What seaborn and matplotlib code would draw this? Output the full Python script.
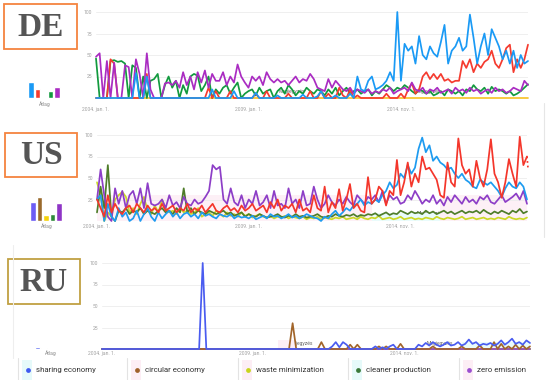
import numpy as np
import pandas as pd
import matplotlib
matplotlib.use("Agg")
import matplotlib.pyplot as plt
from matplotlib.patches import Rectangle
import seaborn as sns

# search terms (Google Trends, monthly interest 0-100, 2004 - 2018)
terms = ["sharing economy", "circular economy", "waste minimization",
         "cleaner production", "zero emission"]
date_ticks = [0, 42, 84]
date_labels = ["2004. jan. 1.", "2009. jan. 1.", "2014. nov. 1."]

# ---- DE ----
de_sharing = [0, 0, 0, 0, 0, 0, 0, 0, 0, 0, 0, 29, 0, 0, 25, 0, 0, 0, 0, 0,
              0, 0, 0, 0, 0, 0, 0, 0, 0, 0, 0, 0, 10, 0, 0, 0, 0, 0, 8, 0,
              0, 0, 0, 0, 6, 0, 0, 0, 0, 0, 3, 0, 0, 0, 0, 0, 0, 4, 0, 0,
              0, 2, 8, 0, 0, 0, 3, 0, 0, 0, 5, 0, 25, 10, 8, 20, 25, 10, 12, 15,
              20, 30, 20, 100, 20, 63, 55, 60, 40, 72, 50, 45, 60, 52, 48, 65, 85, 40, 55, 60,
              70, 55, 60, 97, 70, 40, 60, 75, 50, 80, 70, 60, 45, 55, 40, 55, 35, 50, 40, 43]
de_circular = [0, 0, 0, 0, 45, 40, 0, 0, 0, 0, 0, 0, 0, 0, 28, 0, 0, 0, 0, 0,
               0, 0, 0, 0, 0, 0, 0, 0, 0, 0, 0, 12, 0, 8, 0, 0, 0, 8, 0, 0,
               0, 0, 0, 0, 5, 0, 0, 8, 0, 0, 0, 0, 0, 5, 0, 0, 0, 0, 0, 8,
               0, 0, 8, 0, 5, 0, 0, 12, 3, 0, 10, 0, 3, 0, 0, 0, 0, 0, 0, 0,
               5, 0, 0, 0, 5, 0, 10, 17, 5, 10, 25, 30, 22, 28, 22, 28, 20, 22, 18, 20,
               20, 43, 35, 45, 30, 40, 35, 42, 45, 55, 40, 35, 45, 58, 62, 30, 45, 35, 45, 62]
de_waste = [0, 0, 0, 0, 0, 0, 0, 0, 0, 0, 0, 0, 0, 0, 0, 0, 0, 0, 0, 0,
            0, 0, 0, 0, 0, 0, 0, 0, 0, 0, 0, 0, 0, 0, 0, 0, 0, 0, 0, 0,
            0, 0, 0, 0, 0, 0, 0, 0, 0, 0, 0, 0, 0, 0, 0, 0, 0, 0, 0, 0,
            0, 0, 0, 0, 0, 0, 0, 0, 0, 0, 0, 0, 0, 0, 0, 0, 0, 0, 0, 0,
            0, 0, 0, 0, 0, 0, 0, 0, 0, 0, 0, 0, 0, 0, 0, 0, 0, 0, 0, 0,
            0, 0, 0, 0, 0, 0, 0, 0, 0, 0, 0, 0, 0, 0, 0, 0, 0, 0, 0, 0]
de_cleaner = [46, 0, 0, 0, 43, 44, 42, 43, 40, 0, 38, 35, 0, 25, 0, 20, 22, 28, 0, 15,
              25, 12, 20, 0, 15, 5, 25, 28, 26, 8, 15, 25, 0, 10, 5, 12, 15, 5, 12, 18,
              0, 5, 8, 10, 3, 12, 5, 8, 10, 0, 8, 12, 5, 15, 10, 3, 8, 5, 12, 8,
              5, 10, 8, 3, 10, 5, 12, 3, 8, 12, 5, 8, 10, 5, 8, 10, 3, 8, 5, 10,
              15, 12, 8, 12, 10, 15, 12, 8, 5, 10, 8, 5, 8, 3, 5, 8, 3, 10, 8, 5,
              8, 3, 10, 8, 15, 10, 8, 12, 5, 13, 8, 10, 8, 5, 8, 3, 5, 8, 12, 16]
de_zero = [48, 52, 0, 43, 0, 41, 0, 0, 38, 36, 0, 45, 28, 0, 52, 10, 0, 0, 0, 17,
           18, 15, 20, 12, 30, 15, 25, 10, 30, 18, 32, 12, 28, 20, 20, 30, 15, 25, 18, 39,
           25, 18, 12, 25, 20, 25, 15, 30, 22, 18, 22, 18, 20, 15, 20, 25, 18, 22, 20, 28,
           22, 12, 10, 8, 22, 12, 20, 15, 10, 8, 12, 5, 10, 8, 6, 10, 5, 8, 6, 10,
           8, 12, 5, 8, 10, 12, 8, 18, 10, 8, 12, 5, 10, 8, 12, 6, 8, 10, 5, 12,
           8, 10, 6, 12, 8, 10, 5, 8, 10, 6, 12, 8, 10, 6, 8, 12, 10, 8, 20, 15]
de_avg = [19, 10, 0, 8, 13]

# ---- US ----
us_sharing = [25, 30, 0, 20, 5, 0, 15, 5, 10, 0, 3, 12, 0, 8, 15, 5, 0, 10, 3, 8,
              12, 5, 10, 3, 8, 10, 5, 8, 3, 10, 6, 8, 5, 3, 8, 6, 5, 8, 3, 6,
              4, 5, 3, 6, 2, 4, 6, 3, 8, 5, 6, 3, 5, 8, 4, 6, 3, 5, 8, 6,
              4, 3, 0, 5, 3, 8, 12, 6, 10, 15, 12, 18, 20, 25, 18, 22, 20, 25, 22, 30,
              35, 45, 38, 42, 55, 50, 65, 55, 62, 84, 97, 80, 88, 70, 75, 68, 65, 60, 62, 55,
              50, 55, 48, 45, 40, 38, 48, 45, 42, 45, 40, 35, 28, 38, 45, 40, 38, 45, 40, 25]
us_circular = [25, 15, 5, 30, 10, 20, 12, 8, 15, 18, 10, 20, 15, 10, 18, 12, 15, 10, 20, 12,
               15, 18, 10, 15, 12, 20, 10, 15, 12, 18, 10, 15, 20, 12, 10, 15, 18, 12, 15, 10,
               18, 12, 15, 20, 12, 15, 18, 10, 22, 15, 25, 12, 18, 15, 20, 10, 25, 12, 15, 10,
               30, 15, 12, 40, 10, 22, 15, 37, 12, 25, 43, 15, 20, 12, 10, 51, 20, 25, 40, 35,
               18, 35, 30, 71, 30, 45, 68, 40, 55, 45, 75, 60, 62, 55, 48, 30, 27, 68, 45, 40,
               96, 65, 55, 60, 40, 70, 50, 40, 60, 95, 55, 45, 27, 45, 72, 55, 40, 98, 65, 75]
us_circular_partial = 60
us_waste = [45, 30, 0, 10, 5, 25, 30, 34, 28, 10, 15, 8, 20, 28, 12, 8, 18, 10, 25, 15,
            10, 12, 8, 15, 10, 12, 8, 10, 15, 5, 8, 10, 6, 12, 8, 5, 10, 6, 8, 5,
            10, 6, 8, 4, 6, 8, 5, 4, 6, 3, 5, 4, 6, 3, 5, 4, 3, 5, 2, 4,
            3, 5, 2, 4, 3, 2, 4, 3, 5, 2, 3, 4, 2, 5, 3, 2, 4, 3, 6, 2,
            3, 4, 2, 3, 5, 2, 3, 4, 2, 3, 2, 4, 3, 2, 5, 3, 2, 4, 3, 2,
            3, 5, 2, 3, 4, 2, 3, 4, 2, 3, 2, 4, 3, 2, 5, 3, 2, 3, 2, 4]
us_cleaner = [10, 40, 15, 65, 5, 0, 12, 10, 15, 8, 12, 10, 15, 8, 12, 10, 8, 12, 15, 10,
              12, 8, 15, 10, 38, 10, 15, 8, 12, 10, 8, 12, 10, 8, 10, 12, 8, 10, 6, 8,
              10, 5, 8, 6, 5, 8, 6, 4, 5, 6, 8, 5, 4, 6, 5, 8, 5, 6, 4, 5,
              6, 8, 5, 4, 6, 5, 8, 6, 5, 7, 6, 8, 5, 7, 6, 8, 7, 9, 6, 8,
              10, 7, 9, 8, 12, 10, 8, 11, 9, 10, 8, 12, 9, 11, 8, 10, 12, 9, 11, 8,
              10, 12, 9, 11, 10, 12, 9, 13, 10, 8, 11, 9, 12, 10, 8, 12, 10, 14, 9, 11]
us_zero = [25, 60, 30, 5, 0, 38, 20, 35, 15, 30, 35, 20, 38, 15, 44, 20, 18, 20, 25, 15,
           30, 18, 22, 15, 28, 20, 18, 25, 20, 22, 28, 35, 65, 60, 63, 25, 20, 38, 22, 18,
           30, 15, 25, 20, 35, 18, 22, 30, 15, 35, 18, 20, 15, 38, 20, 25, 15, 35, 18, 20,
           40, 25, 15, 20, 30, 22, 18, 25, 20, 28, 22, 18, 30, 25, 20, 28, 25, 30, 22, 35,
           20, 30, 25, 28, 20, 22, 30, 25, 35, 28, 20, 25, 22, 30, 20, 25, 18, 28, 22, 30,
           25, 20, 28, 22, 25, 20, 28, 25, 30, 22, 20, 25, 30, 22, 25, 28, 32, 25, 35, 20]
us_avg = [22, 28, 7, 8, 21]

# ---- RU ----
ru_sharing = [0, 0, 0, 0, 0, 0, 0, 0, 0, 0, 0, 0, 0, 0, 0, 0, 0, 0, 0, 0,
              0, 0, 0, 0, 0, 0, 0, 0, 100, 0, 0, 0, 0, 0, 0, 0, 0, 0, 0, 0,
              0, 0, 0, 0, 0, 0, 0, 0, 0, 0, 0, 0, 0, 0, 0, 0, 0, 0, 0, 0,
              0, 0, 0, 0, 3, 8, 2, 8, 5, 0, 0, 0, 0, 0, 0, 0, 3, 0, 2, 0,
              3, 5, 0, 0, 0, 0, 0, 0, 5, 3, 7, 4, 8, 5, 3, 5, 8, 4, 5, 8,
              4, 6, 11, 6, 8, 4, 6, 5, 7, 4, 6, 10, 5, 8, 12, 6, 8, 5, 10, 7]
ru_circular = [0, 0, 0, 0, 0, 0, 0, 0, 0, 0, 0, 0, 0, 0, 0, 0, 0, 0, 0, 0,
               0, 0, 0, 0, 0, 0, 0, 0, 0, 0, 0, 0, 0, 0, 0, 0, 0, 0, 0, 0,
               0, 0, 0, 0, 0, 0, 0, 0, 0, 0, 0, 0, 0, 30, 0, 0, 0, 0, 0, 0,
               0, 8, 0, 0, 0, 0, 0, 0, 0, 5, 0, 5, 0, 0, 0, 0, 0, 3, 0, 3,
               0, 0, 0, 6, 0, 0, 0, 0, 0, 0, 0, 0, 3, 0, 0, 0, 0, 0, 0, 0,
               3, 0, 0, 0, 0, 4, 0, 0, 0, 8, 0, 6, 0, 3, 0, 5, 0, 4, 0, 3]
ru_waste = [0, 0, 0, 0, 0, 0, 0, 0, 0, 0, 0, 0, 0, 0, 0, 0, 0, 0, 0, 0,
            0, 0, 0, 0, 0, 0, 0, 0, 0, 0, 0, 0, 0, 0, 0, 0, 0, 0, 0, 0,
            0, 0, 0, 0, 0, 0, 0, 0, 0, 0, 0, 0, 0, 0, 0, 0, 0, 0, 0, 0,
            0, 0, 0, 0, 0, 0, 0, 0, 0, 0, 0, 0, 0, 0, 0, 0, 0, 0, 0, 0,
            0, 0, 0, 0, 0, 0, 0, 0, 0, 0, 0, 0, 0, 0, 0, 0, 0, 0, 0, 0,
            0, 0, 0, 0, 0, 0, 0, 0, 0, 0, 0, 0, 0, 0, 0, 0, 0, 0, 0, 0]
ru_cleaner = list(ru_waste)
ru_zero = list(ru_waste)
ru_avg = [2, 1, 0, 0, 0.5]

# colours
de_colors = ["#1a9af5", "#f53b2f", "#f7c42c", "#129a3e", "#aa2cc2"]
us_colors = ["#1d9bf0", "#f4362b", "#cbd827", "#4f7d2a", "#8d3ec7"]
us_bar_colors = ["#6c5cf5", "#9a6a2c", "#f5d20a", "#2f8a3a", "#8f35c6"]
ru_colors = ["#4a5cf0", "#a2652a", "#c6d51a", "#3c7d3c", "#9446c9"]
legend_colors = ["#3f5af0", "#a0612c", "#c8d41c", "#3a7a3a", "#9c4fd0"]

sns.set_style("white")
plt.rcParams["font.family"] = ["Roboto", "DejaVu Sans"]

W, H = 550, 380
fig = plt.figure(figsize=(5.5, 3.8), dpi=100)


def px_axes(x0, y0, x1, y1):
    return fig.add_axes([x0 / W, 1 - y1 / H, (x1 - x0) / W, (y1 - y0) / H])


overlay = px_axes(0, 0, W, H)
overlay.set_xlim(0, W)
overlay.set_ylim(H, 0)
overlay.axis("off")
overlay.set_zorder(-1)


def draw_panel(series, avg, colors, bar_colors, order, lx0, lx1, ytop, ybase,
               bx0, bx1, first_bar, xpad, ypad):
    n = len(series[0])
    df = pd.DataFrame({"month": np.tile(np.arange(n), len(terms)),
                       "value": np.concatenate(series),
                       "term": np.repeat(terms, n)})
    ax = px_axes(lx0, ytop, lx1, ybase)
    ax.patch.set_alpha(0)
    for v in [0, 25, 50, 75, 100]:
        ax.axhline(v, color="#ececec", lw=0.6, zorder=0)
    sns.lineplot(data=df, x="month", y="value", hue="term", hue_order=order,
                 palette=dict(zip(terms, colors)), estimator=None, legend=False,
                 linewidth=1.25, ax=ax, clip_on=False)
    ax.set_xlim(0, n - 1)
    ax.set_ylim(0, 100)
    ax.set_yticks([25, 50, 75, 100])
    ax.set_xticks(date_ticks, date_labels)
    ax.tick_params(length=0, labelsize=3.6, labelcolor="#a0a0a0")
    ax.tick_params(axis="x", pad=xpad)
    ax.tick_params(axis="y", pad=ypad)
    ax.set_xlabel("")
    ax.set_ylabel("")
    sns.despine(ax=ax, left=True, bottom=True)

    bax = px_axes(bx0, ytop, bx1, ybase)
    bax.patch.set_alpha(0)
    sns.barplot(x=terms, y=avg, hue=terms, palette=bar_colors, legend=False,
                width=0.9, saturation=1, ax=bax)
    span = (bx1 - bx0) / 6.5
    lo = -(first_bar - bx0) / 6.5
    bax.set_xlim(lo, lo + span)
    bax.set_ylim(0, 100)
    bax.axhline(0, color="#c8c8c8", lw=0.6)
    bax.axis("off")
    return ax


# DE
ax_de = draw_panel([de_sharing, de_circular, de_waste, de_cleaner, de_zero], de_avg,
                   de_colors, de_colors,
                   ["waste minimization", "cleaner production", "circular economy",
                    "zero emission", "sharing economy"],
                   96, 528, 12, 98, 18, 70, 31, 6.5, 3)

# US
ax_us = draw_panel([us_sharing, us_circular, us_waste, us_cleaner, us_zero], us_avg,
                   us_colors, us_bar_colors,
                   ["waste minimization", "cleaner production", "zero emission",
                    "sharing economy", "circular economy"],
                   97, 527, 135, 221, 24, 72, 33, 2.0, 3)
ax_us.add_patch(Rectangle((0, 0), 76, 30, color="#fdf0f6", zorder=-1, lw=0))
ax_us.add_patch(Rectangle((95, 0), 24, 30, color="#fdf0f6", zorder=-1, lw=0))
ax_us.add_patch(Rectangle((76, 0), 19, 9, color="#e9fbfb", zorder=-1, lw=0))
ax_us.plot([len(us_circular) - 1, len(us_circular) - 0.7],
           [us_circular[-1], us_circular_partial], ls=":", color=us_colors[1],
           lw=1.25, clip_on=False)

# RU
ax_ru = draw_panel([ru_sharing, ru_circular, ru_waste, ru_cleaner, ru_zero], ru_avg,
                   ru_colors, ru_colors,
                   ["cleaner production", "waste minimization", "zero emission",
                    "circular economy", "sharing economy"],
                   102, 530, 263, 349, 24, 75, 37.5, 1.5, 3)
ax_ru.add_patch(Rectangle((49, 0), 5, 10, color="#fdeef5", zorder=-1, lw=0))
ax_ru.add_patch(Rectangle((100, 0), 19, 8, color="#e9fbfb", zorder=-1, lw=0))

# country boxes, "Átlag", notes
boxes = [("DE", 4, 4, 77, 49, "#f5843f"),
         ("US", 5, 133, 77, 177, "#f5843f"),
         ("RU", 8, 259, 80, 304, "#c0a042")]
for name, x0, y0, x1, y1, col in boxes:
    overlay.add_patch(Rectangle((x0, y0), x1 - x0, y1 - y0, fill=False,
                                edgecolor=col, lw=1.3))
    overlay.text((x0 + x1) / 2, (y0 + y1) / 2 + 1, name, ha="center", va="center",
                 fontsize=24, fontweight="bold", color="#555555",
                 family=["Liberation Serif", "DejaVu Serif"])

for x, y in [(45, 104), (47, 226), (51, 353)]:
    overlay.text(x, y, "Átlag", ha="center", va="center", fontsize=3.6, color="#8a8a8a")

for x, y in [(292, 92), (428, 92), (288, 214), (430, 214), (300, 343), (440, 343)]:
    overlay.text(x, y, "Megjegyzés", ha="center", va="center", fontsize=3.6, color="#666666")

overlay.plot([544, 544], [103, 237], color="#e6e6e6", lw=0.8)
overlay.plot([13, 13], [245, 358], color="#eeeeee", lw=0.8)

# legend
leg_x = [28, 137, 248, 358, 469]
leg_bg = ["#e6fafa", "#fdeef5", "#fdeef5", "#e6fafa", "#fdeef5"]
for x, term, col, bg in zip(leg_x, terms, legend_colors, leg_bg):
    overlay.add_patch(Rectangle((x - 6, 360), 10, 20, color=bg, lw=0))
    overlay.plot([x - 10, x - 10], [358, 380], color="#e3e3e3", lw=0.8)
    overlay.scatter([x], [370], s=12, color=col, lw=0)
    overlay.text(x + 8, 370, term, ha="left", va="center", fontsize=5.7, color="#333333")

fig.savefig("out.png", dpi=100)
